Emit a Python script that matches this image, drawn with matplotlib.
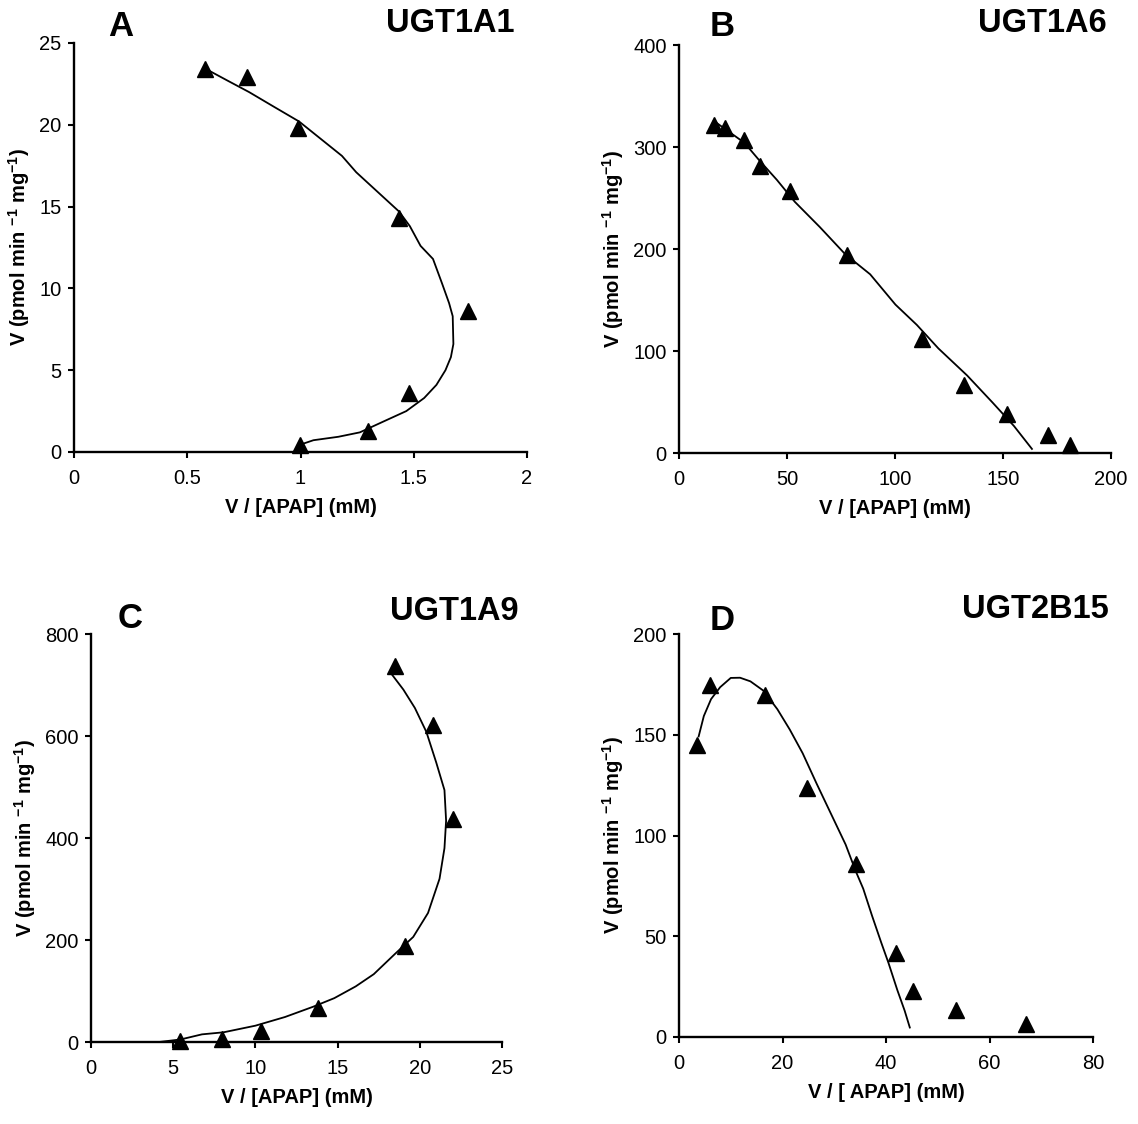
import numpy as np
import matplotlib.pyplot as plt

plt.rcParams['font.family'] = ['Liberation Sans', 'DejaVu Sans']
plt.rcParams['mathtext.fontset'] = 'custom'
plt.rcParams['mathtext.rm'] = 'Liberation Sans'
plt.rcParams['mathtext.bf'] = 'Liberation Sans:bold'

# UGT1A1
a_x = [0.58, 0.765, 0.99, 1.435, 1.738, 1.48, 1.30, 0.998]
a_y = [23.4, 22.9, 19.8, 14.3, 8.6, 3.6, 1.3, 0.4]
a_fit_x = [0.584, 0.678, 0.773, 0.883, 0.994, 1.057, 1.12, 1.183, 1.246, 1.309, 1.372, 1.435,
           1.483, 1.53, 1.585, 1.625, 1.656, 1.672, 1.675, 1.664, 1.64, 1.60, 1.546, 1.467,
           1.372, 1.262, 1.167, 1.057, 1.01]
a_fit_y = [23.4, 22.7, 22.0, 21.1, 20.2, 19.5, 18.8, 18.1, 17.1, 16.3, 15.5, 14.7,
           13.8, 12.6, 11.8, 10.3, 9.1, 8.3, 6.6, 5.8, 5.0, 4.1, 3.3, 2.5,
           1.9, 1.2, 0.93, 0.72, 0.5]

# UGT1A6
b_x = [16.1, 21.1, 30.3, 37.3, 51.6, 77.7, 112.6, 131.8, 152.0, 170.9, 180.9]
b_y = [322, 319, 307, 281, 257, 194, 112, 67, 38, 18, 8]
b_fit_x = [16.1, 30.3, 36.9, 45.3, 53.6, 65.2, 76.9, 88.5, 100.2, 110.1, 120.1, 133.4, 145.1, 155.1, 163.4]
b_fit_y = [325.6, 304.1, 287.6, 267.8, 246.3, 221.5, 195.0, 175.2, 145.5, 125.6, 102.5, 76.0, 49.6, 26.4, 4.0]

# UGT1A9
c_x = [18.5, 20.8, 22.0, 19.1, 13.8, 10.35, 7.95, 5.4]
c_y = [738, 621, 437, 189, 66, 22, 5, 2]
c_fit_x = [18.2, 19.0, 19.7, 20.4, 21.0, 21.5, 21.6, 21.5, 21.2, 20.5, 19.6, 18.5, 17.2, 16.1,
           14.8, 13.5, 11.8, 10.0, 8.06, 6.75, 5.45, 4.14, 0.0]
c_fit_y = [725, 691, 655, 608, 548, 494, 434, 380, 320, 253, 206, 173, 133, 109,
           86, 69, 49, 32, 19, 15, 5, 0, 0]

# UGT2B15
d_x = [3.46, 5.9, 16.7, 24.7, 34.2, 42.0, 45.3, 53.5, 67.1]
d_y = [145, 174.5, 169.7, 123.7, 85.7, 41.7, 22.7, 13.4, 6.4]
d_fit_x = [3.8, 4.8, 6.2, 7.95, 10.0, 11.8, 13.8, 16.3, 19.0, 21.4, 23.9, 26.6, 29.4, 32.2,
           34.2, 35.6, 37.3, 39.1, 40.5, 42.2, 43.6, 44.6]
d_fit_y = [149.2, 159.3, 167.7, 173.6, 178.2, 178.3, 176.5, 171.9, 162.7, 152.6, 140.8, 125.7,
           110.6, 95.5, 82.0, 73.6, 60.2, 46.7, 36.6, 23.2, 13.1, 4.7]

ylab = r'V (pmol min $^{\mathbf{-1}}$ mg$^{\mathbf{-1}}$)'

W, H = 1138, 1124

# axes boxes in pixels: left, right, top, bottom
panels = [
    ("A", "UGT1A1", (a_x, a_y), (a_fit_x, a_fit_y), (0, 2), [0, 0.5, 1, 1.5, 2],
     (0, 25), [0, 5, 10, 15, 20, 25], (74, 527, 43, 452),
     "V / [APAP] (mM)", (121, 26), (515, 23.5)),
    ("B", "UGT1A6", (b_x, b_y), (b_fit_x, b_fit_y), (0, 200), [0, 50, 100, 150, 200],
     (0, 400), [0, 100, 200, 300, 400], (679, 1111, 45, 453),
     "V / [APAP] (mM)", (722, 27), (1107, 23.5)),
    ("C", "UGT1A9", (c_x, c_y), (c_fit_x, c_fit_y), (0, 25), [0, 5, 10, 15, 20, 25],
     (0, 800), [0, 200, 400, 600, 800], (91, 502, 634, 1042),
     "V / [APAP] (mM)", (130, 619), (519, 612)),
    ("D", "UGT2B15", (d_x, d_y), (d_fit_x, d_fit_y), (0, 80), [0, 20, 40, 60, 80],
     (0, 200), [0, 50, 100, 150, 200], (679, 1093, 634, 1037),
     "V / [ APAP] (mM)", (722, 620), (1109, 610)),
]

fig = plt.figure(figsize=(W / 100, H / 100), dpi=100)

for letter, name, pts, fit, xlim, xticks, ylim, yticks, box, xlabel, lpos, npos in panels:
    l, r, t, b = box
    ax = fig.add_axes([l / W, 1 - b / H, (r - l) / W, (b - t) / H])
    ax.plot(fit[0], fit[1], color="black", lw=1.3, clip_on=False)
    ax.plot(pts[0], pts[1], "^", color="black", ms=11.5, clip_on=False, zorder=3)
    ax.set_xlim(xlim)
    ax.set_ylim(ylim)
    ax.set_xticks(xticks)
    ax.set_yticks(yticks)
    ax.set_xticklabels([("%g" % v) for v in xticks])
    ax.spines["top"].set_visible(False)
    ax.spines["right"].set_visible(False)
    ax.spines["left"].set_linewidth(1.7)
    ax.spines["bottom"].set_linewidth(1.7)
    ax.tick_params(direction="out", length=4.5, width=1.5, labelsize=14.5)
    ax.tick_params(axis="x", pad=8)
    ax.tick_params(axis="y", pad=4.5)
    ax.set_xlabel(xlabel, fontsize=14.5, fontweight="bold", labelpad=7)
    ax.set_ylabel(ylab, fontsize=14.5, fontweight="bold", labelpad=5)
    fig.text(lpos[0] / W, 1 - lpos[1] / H, letter, fontsize=25,
             fontweight="bold", ha="center", va="center")
    fig.text(npos[0] / W, 1 - npos[1] / H, name, fontsize=23.5,
             fontweight="bold", ha="right", va="center")

fig.savefig("out.png", dpi=100)
